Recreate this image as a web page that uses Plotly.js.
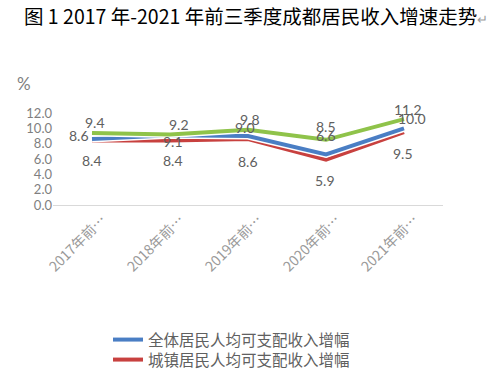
<!DOCTYPE html>
<html>
<head>
<meta charset="utf-8">
<script src="https://cdn.plot.ly/plotly-3.0.1.min.js"></script>
<style>html,body{margin:0;padding:0;background:#fff;}#chart{width:500px;height:369px;}</style>
</head>
<body>
<div id="chart"></div>
<script>
const categories = ['2017年前三季度', '2018年前三季度', '2019年前三季度', '2020年前三季度', '2021年前三季度'];
const tickLabels = ['2017年前…', '2018年前…', '2019年前…', '2020年前…', '2021年前…'];
const seriesNames = ['全体居民人均可支配收入增幅', '城镇居民人均可支配收入增幅', '农村居民人均可支配收入增幅'];
const allResidents = [8.6, 9.1, 9.0, 6.6, 10.0];
const urbanResidents = [8.4, 8.4, 8.6, 5.9, 9.5];
const ruralResidents = [9.4, 9.2, 9.8, 8.5, 11.2];

const colors = {all: '#4a7ec4', urban: '#c8413f', rural: '#8fc34a'};
const numFont = 'Lato, "Noto Sans CJK SC", sans-serif';
const cjkFont = '"Noto Sans CJK SC", sans-serif';

function line(vals, color, name, showlegend, legendId) {
  return {x: categories, y: vals, type: 'scatter', mode: 'lines', name: name,
    line: {color: color, width: 4}, showlegend: showlegend, legend: legendId, hoverinfo: 'skip'};
}
function halo(vals) {
  return {x: categories, y: vals, type: 'scatter', mode: 'lines', showlegend: false,
    line: {color: '#ffffff', width: 7}, hoverinfo: 'skip'};
}

const data = [
  halo(urbanResidents), line(urbanResidents, colors.urban, seriesNames[1], true, 'legend2'),
  halo(allResidents), line(allResidents, colors.all, seriesNames[0], true, 'legend'),
  halo(ruralResidents), line(ruralResidents, colors.rural, seriesNames[2], false, 'legend')
];

// label offsets (pixels)
const offsets = {
  rural: {dx: [3, 9, 2, 0, 4], dy: [10, 10, 10, 13, 10]},
  all:   {dx: [-13, 3, -3, 0, 8], dy: [4, -6, 9, 19, 10]},
  urban: {dx: [0, 3, 0, -1, -1], dy: [-20, -20, -22, -21, -21]}
};
const annotations = [];
function addLabels(vals, off) {
  vals.forEach((v, i) => {
    annotations.push({x: categories[i], y: v, xref: 'x', yref: 'y', text: v.toFixed(1),
      showarrow: false, xshift: off.dx[i], yshift: off.dy[i],
      font: {family: numFont, size: 14, color: '#606060'}});
  });
}
addLabels(ruralResidents, offsets.rural);
addLabels(allResidents, offsets.all);
addLabels(urbanResidents, offsets.urban);

annotations.push({xref: 'paper', yref: 'paper', x: -0.0795, y: 2.065, xanchor: 'left', yanchor: 'middle',
  text: '图 1 2017 年-2021 年前三季度成都居民收入增速走势<span style="color:#9a9a9a;font-size:13px">↵</span>',
  showarrow: false, font: {family: cjkFont, size: 19.5, color: '#000000'}});
annotations.push({xref: 'paper', yref: 'paper', x: -0.097, y: 1.326, xanchor: 'left', yanchor: 'middle',
  text: '%', showarrow: false, font: {family: numFont, size: 17, color: '#7f7f7f'}});

const legendStyle = (topPx) => ({xref: 'container', yref: 'container', x: 108 / 500, y: 1 - topPx / 369,
  xanchor: 'left', yanchor: 'top', bgcolor: 'rgba(0,0,0,0)',
  font: {family: cjkFont, size: 15.5, color: '#606060'}, itemwidth: 30});

const layout = {
  width: 500, height: 369,
  margin: {l: 53, r: 57, t: 113, b: 164, autoexpand: false},
  paper_bgcolor: '#ffffff', plot_bgcolor: '#ffffff',
  showlegend: true,
  legend: legendStyle(323),
  legend2: legendStyle(343),
  xaxis: {type: 'category', tickvals: categories, ticktext: tickLabels, tickangle: -45,
    showgrid: false, zeroline: false, showline: true, linecolor: '#d9d9d9', linewidth: 1,
    ticks: '', ticklabelshift: 10, ticklabelstandoff: 0, automargin: false,
    tickfont: {family: cjkFont, size: 14, color: '#9a9a9a'}, range: [-0.5, 4.5], fixedrange: true},
  yaxis: {range: [0, 12], dtick: 2, tick0: 0, tickformat: '.1f', showgrid: false, zeroline: false,
    showline: false, ticks: '', automargin: false, tickfont: {family: numFont, size: 13, color: '#7f7f7f'}, fixedrange: true},
  annotations: annotations
};

Plotly.newPlot('chart', data, layout, {displayModeBar: false, staticPlot: true});
</script>
</body>
</html>
